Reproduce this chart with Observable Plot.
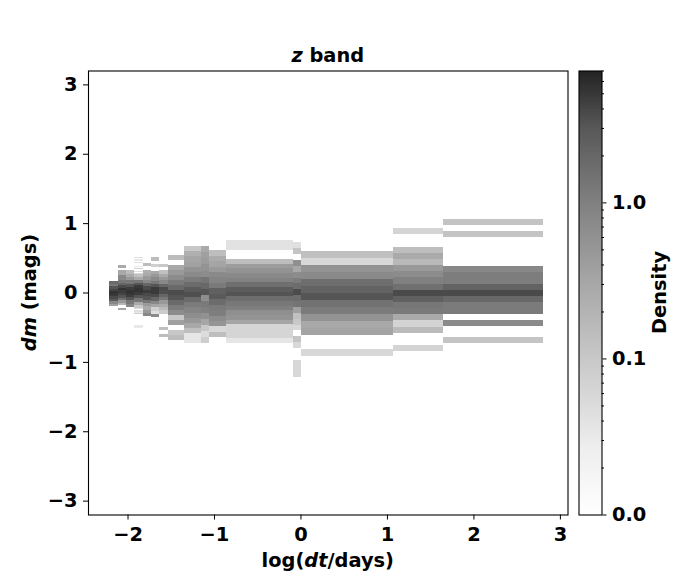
<!DOCTYPE html>
<html><head><meta charset="utf-8">
<script src="https://cdn.jsdelivr.net/npm/d3@7"></script>
<script src="https://cdn.jsdelivr.net/npm/@observablehq/plot@0.6"></script>
<style>
body{margin:0;background:#fff;}
#wrap{position:relative;width:700px;height:580px;background:#fff;}
#wrap svg{position:absolute;top:0;}
</style></head><body><div id="wrap"></div>
<script>
// x bin edges in log(dt/days)
const xEdges = [-2.213, -2.112, -2.016, -1.920, -1.823, -1.727, -1.631, -1.531, -1.346, -1.153, -1.057, -0.860, -0.089, 0.007, 1.067, 1.645, 2.801];
// top dm edge of each column's dm bins, and dm bin width
const colTop  = [0.162, 0.392, 0.320, 0.515, 0.426, 0.508, 0.417, 0.537, 0.667, 0.667, 0.609, 0.753, 0.724, 0.595, 0.926, 1.056];
const colStep = [0.036, 0.036, 0.048, 0.018, 0.048, 0.048, 0.048, 0.0722, 0.0736, 0.0875, 0.0785, 0.0674, 0.0847, 0.101, 0.0886, 0.0851];
// densities of each dm bin, from top to bottom (0 = empty)
const colDensity = [
  [1.83, 1.28, 3.13, 4.09, 5.35, 4.79, 3.73, 2.83, 0.785, 0.374],
  [0.272, 0, 0.292, 0.292, 0.785, 0.785, 1.28, 2.04, 3.73, 5.35, 4.63, 4.09, 3.13, 1.55, 0.465, 0.188, 0, 0.292],
  [0.154, 0.272, 0.465, 1.28, 3.13, 4.63, 5.35, 4.63, 3.13, 1.28, 0.785],
  [0.043, 0, 0.033, 0, 0.043, 0, 0, 0.033, 0, 0.076, 0, 0.043, 0, 0.057, 0.131, 0.131, 0.272, 0.272, 0.272, 1.28, 1.28, 3.13, 3.13, 4.79, 4.79, 5.35, 5.35, 5.35, 4.63, 4.63, 4.63, 3.13, 3.13, 1.28, 1.28, 1.28, 0.272, 0.272, 0.272, 0.100, 0.100, 0.050, 0, 0.043, 0.033, 0.076, 0, 0, 0, 0, 0, 0, 0, 0, 0, 0.033, 0.033],
  [0.144, 0, 0.223, 0.272, 0.465, 0.785, 2.04, 3.73, 4.79, 3.73, 3.13, 1.28, 0.465, 0.272, 0.465, 0.785],
  [0.144, 0, 0.076, 0, 0.292, 0.465, 0.735, 1.28, 3.13, 4.79, 4.79, 3.73, 2.04, 0.785, 0.312, 0.076, 0.043, 0.693],
  [0.100, 0, 0.131, 0.272, 0.465, 0.785, 2.04, 3.73, 3.5, 2.04, 1.28, 0.465, 0.272, 0.154, 0.087, 0, 0, 0, 0, 0.131, 0, 0.144],
  [0.149, 0, 0.292, 0.465, 0.693, 1.18, 1.83, 3.61, 3.13, 1.83, 1.12, 0.693, 0.100, 0.374, 0, 0.100, 0.144],
  [0.100, 0.223, 0.312, 0.353, 0.558, 0.735, 1.15, 1.73, 2.83, 3.45, 1.83, 1.15, 0.883, 0.671, 0.480, 0.292, 0.135, 0.035, 0.035],
  [0.272, 0.374, 0.424, 0.558, 0.693, 1.35, 1.93, 3.13, 0.653, 1.18, 1.0, 0.576, 0.312, 0.100, 0.050, 0.081],
  [0.139, 0.255, 0.322, 0.450, 0.735, 0.883, 1.18, 2.40, 2.83, 1.73, 1.18, 1.05, 0.671, 0.526, 0.057, 0.139],
  [0.040, 0.040, 0, 0, 0.144, 0.424, 0.558, 0.760, 0.942, 1.59, 2.67, 3.19, 1.68, 1.24, 1.03, 0.632, 0.54, 0.322, 0.063, 0.063, 0.063, 0.035],
  [0.043, 0.114, 0, 0.612, 0.292, 0.693, 1.12, 1.73, 3.61, 1.73, 1.39, 0.374, 0.131, 0.100, 0.057, 0, 0.114, 0.057, 0, 0, 0.057, 0.057, 0.057],
  [0.131, 0.057, 0.558, 0.735, 1.63, 2.21, 3.13, 1.46, 1.15, 0.558, 0.292, 0.33, 0, 0, 0.057],
  [0.066, 0, 0, 0.139, 0.272, 0.165, 0.465, 0.693, 1.0, 1.55, 3.73, 2.40, 1.28, 1.18, 0.272, 0.066, 0.154, 0, 0, 0.066],
  [0.114, 0, 0.114, 0, 0, 0, 0, 0, 0.785, 1.09, 1.09, 2.21, 3.73, 1.93, 1.15, 1.15, 0, 0.735, 0, 0, 0.114]
];
const xTicks = [-2, -1, 0, 1, 2, 3];
const yTicks = [-3, -2, -1, 0, 1, 2, 3];
const cbMajor = [0.01, 0.1, 1];
const cbMinor = [0.02,0.03,0.04,0.05,0.06,0.07,0.08,0.09,0.2,0.3,0.4,0.5,0.6,0.7,0.8,0.9,2,3,4,5,6,7];
const densityDomain = [0.01, 7];
// grey colormap (position along the log colour scale -> grey level)
const cmapPos  = [0, 0.15, 0.351, 0.53, 0.703, 0.87, 1.0];
const cmapGrey = [255, 238, 200, 165, 128, 88, 34];

const cells = [];
colDensity.forEach((col, i) => {
  col.forEach((d, j) => {
    if (d > 0) cells.push({
      x1: xEdges[i], x2: xEdges[i + 1],
      y1: colTop[i] - colStep[i] * (j + 1), y2: colTop[i] - colStep[i] * j,
      density: d
    });
  });
});

const greyAt = d3.scaleLinear().domain(cmapPos).range(cmapGrey).clamp(true);
const greyInterp = t => { const g = Math.round(greyAt(t)); return `rgb(${g},${g},${g})`; };
const colorOpts = {type: "log", domain: densityDomain, interpolate: greyInterp};

const FONT = "'DejaVu Sans', sans-serif";
const FS = "19.4px";
const baseStyle = {fontFamily: FONT, fontSize: FS, fontWeight: "bold", color: "black", background: "transparent"};
const fmt = d => (d < 0 ? "\u2212" + Math.abs(d) : String(d));

const main = Plot.plot({
  width: 700, height: 580,
  marginLeft: 88, marginRight: 132.5, marginTop: 70.5, marginBottom: 65.5,
  style: baseStyle,
  x: {domain: [-2.457, 3.088], ticks: xTicks, tickFormat: fmt, tickSize: 5, tickPadding: 7, label: null},
  y: {domain: [-3.2, 3.2], ticks: yTicks, tickFormat: fmt, tickSize: 5, tickPadding: 6, label: null},
  color: colorOpts,
  marks: [
    Plot.rect(cells, {x1: "x1", x2: "x2", y1: "y1", y2: "y2", fill: "density", shapeRendering: "crispEdges"}),
    Plot.frame({stroke: "black", strokeWidth: 1.1})
  ]
});

// colorbar bands (log-spaced)
const nb = 300, lo = Math.log10(densityDomain[0]), hi = Math.log10(densityDomain[1]);
const bands = d3.range(nb).map(i => {
  const a = lo + (hi - lo) * i / nb, b = lo + (hi - lo) * (i + 1) / nb;
  return {y1: 10 ** a, y2: 10 ** b, v: 10 ** ((a + b) / 2)};
});

const cb = Plot.plot({
  width: 122, height: 580,
  marginLeft: 0.5, marginRight: 98.5, marginTop: 70.5, marginBottom: 65.5,
  style: baseStyle,
  x: {domain: [0, 1], axis: null},
  y: {type: "log", domain: densityDomain, axis: "right", ticks: cbMajor, tickFormat: d3.format(".1f"), tickSize: 4, tickPadding: 6, label: null},
  color: colorOpts,
  marks: [
    Plot.rect(bands, {x1: 0, x2: 1, y1: "y1", y2: "y2", fill: "v", shapeRendering: "crispEdges"}),
    Plot.ruleY(cbMinor, {x1: 1, x2: 1 + 2.5 / 23, stroke: "black"}),
    Plot.frame({stroke: "black", strokeWidth: 1.1})
  ]
});

const wrap = document.getElementById("wrap");
main.style.left = "0px";
cb.style.left = "578px";
wrap.appendChild(main);
wrap.appendChild(cb);

function addText(svg, x, y, parts, rotate) {
  const t = d3.select(svg).append("text")
    .attr("transform", `translate(${x},${y})` + (rotate ? ` rotate(${rotate})` : ""))
    .attr("text-anchor", "middle")
    .style("font-family", FONT).style("font-size", FS).style("font-weight", "bold")
    .style("white-space", "pre").attr("fill", "black");
  parts.forEach(([s, it]) => {
    const sp = t.append("tspan").text(s);
    if (it) sp.style("font-style", "italic");
  });
}
addText(main, 327.75, 62, [["z", true], [" band", false]]);
addText(main, 327.75, 566.5, [["log(", false], ["dt", true], ["/days)", false]]);
addText(main, 36, 292.5, [["dm", true], [" (mags)", false]], -90);
addText(cb, 88, 292.5, [["Density", false]], -90);
</script>
</body></html>
